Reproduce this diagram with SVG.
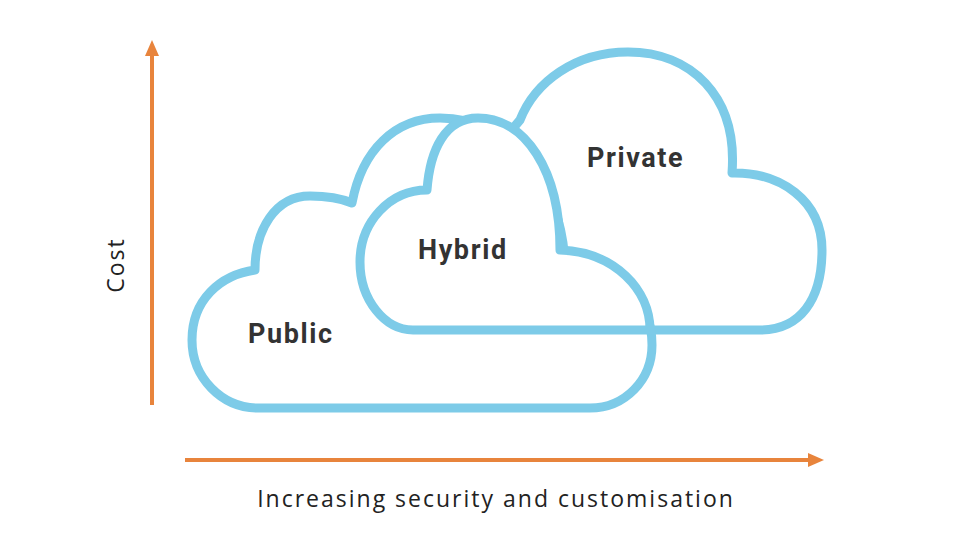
<svg xmlns="http://www.w3.org/2000/svg" width="960" height="540" viewBox="0 0 960 540">
<style>
.c{fill:#fff;stroke:#7dcbe8;stroke-width:9;stroke-linejoin:round}
.l{font-family:Roboto,"Open Sans",sans-serif;font-weight:bold;font-size:27px;letter-spacing:1.6px;fill:#333}
.a{stroke:#e8843c;stroke-width:4;fill:none}
.t{font-family:"Open Sans",Roboto,sans-serif;font-size:23px;letter-spacing:2px;fill:#222}
</style>
<defs>
<marker id="ah" markerWidth="16" markerHeight="14" refX="4" refY="7" orient="auto" markerUnits="userSpaceOnUse"><path d="M0,0L16,7L0,14z" fill="#e8843c"/></marker></defs>
<rect width="960" height="540" fill="#fff"/>
<g id="private"><path class="c" d="M470,330 H760 C800,330 822,300 822,250 C822,200 780,172 732,173 C738,95 690,52 628,52 C575,52 535,82 520,120 L470,180 Z"/><text class="l" x="587" y="167">Private</text></g>
<g id="public"><path class="c" d="M258,408 H590 C625,408 652,380 652,345 C652,300 620,265 565,262 C560,180 510,118 440,118 C395,118 362,150 352,203 C340,198 322,196 310,196 C275,196 255,230 255,270 C220,275 192,300 192,340 C192,378 222,408 258,408 Z"/><text class="l" x="248" y="343">Public</text></g>
<g id="hybrid"><path class="c" d="M413,330 H650 C650,290 615,252 560,250 C560,170 525,118 478,118 C445,118 430,150 427,190 C390,190 360,222 360,262 C360,300 385,330 413,330 Z"/><text class="l" x="418" y="259">Hybrid</text></g>
<g id="connectors">
<line class="a" x1="152" y1="405" x2="152" y2="52" marker-end="url(#ah)"/>
<line class="a" x1="185" y1="460" x2="812" y2="460" marker-end="url(#ah)"/>
</g>
<text class="t" transform="translate(124,265) rotate(-90)" text-anchor="middle">Cost</text>
<text class="t" x="496" y="507" text-anchor="middle">Increasing security and customisation</text>
</svg>
